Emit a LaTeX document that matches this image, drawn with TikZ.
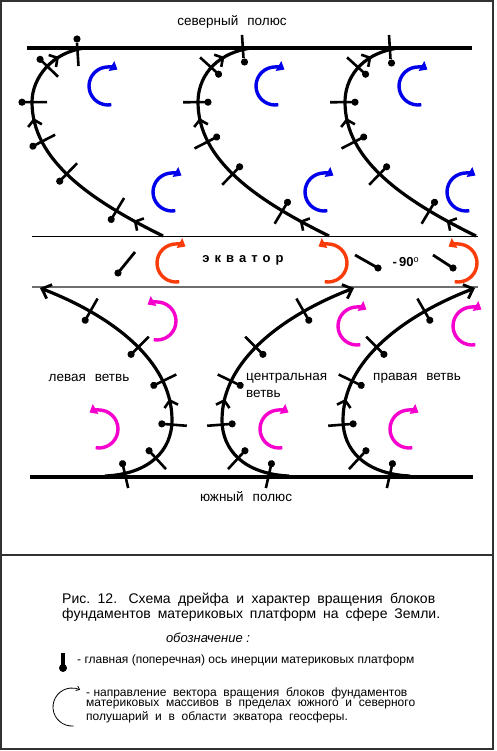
\documentclass[tikz,border=0pt]{standalone}
\usepackage{fontspec}
\setmainfont{Liberation Sans}
\usetikzlibrary{arrows.meta,decorations.markings}
\definecolor{rotblue}{RGB}{0,0,235}
\definecolor{rotred}{RGB}{250,60,10}
\definecolor{rotmag}{RGB}{245,0,205}
\definecolor{framegrey}{RGB}{50,50,50}
\definecolor{eqgrey}{RGB}{110,110,110}
\newcommand{\tkdotL}{\draw[-, line width=2.6pt] (0pt,-15pt) -- (0pt,10pt); \fill (0pt,10pt) circle[radius=3.6pt];}
\newcommand{\tkdotR}{\draw[-, line width=2.6pt] (0pt,15pt) -- (0pt,-10pt); \fill (0pt,-10pt) circle[radius=3.6pt];}
\newcommand{\midarr}{\arrow[line width=2.6pt]{Straight Barb[length=6pt,width=14pt]}}
\newcommand{\rotarc}[5]{\draw[rotarrow,#1] (#2,#3) ++(#4:19) arc[start angle=#4, end angle=#5, radius=19];}
\newcommand{\wgap}{\hspace{9pt}}
\tikzset{
  drift/.style={line width=3.2pt, black},
  poleline/.style={line width=4.5pt, black},
  rotarrow/.style={line width=3.4pt, -{Triangle[length=7pt,width=11pt]}},
  axisbar/.style={line width=2.8pt, black},
  topbar/.style={line width=2.6pt, black},
  lbl/.style={inner sep=0pt, font=\fontsize{13.5}{16}\selectfont},
  capt/.style={inner sep=0pt, font=\fontsize{14}{17}\selectfont, anchor=west},
  legtxt/.style={inner sep=0pt, font=\fontsize{12}{13}\selectfont, anchor=west},
  northL/.style={postaction={decorate}, decoration={markings,
    mark=at position 33pt with {\midarr},
    mark=at position 53pt with {\tkdotL},
    mark=at position 115pt with {\tkdotL},
    mark=at position 156pt with {\tkdotL},
    mark=at position 181pt with {\midarr},
    mark=at position 197pt with {\tkdotL},
    mark=at position 237pt with {\tkdotL},
    mark=at position 252pt with {\midarr}}},
  northR/.style={postaction={decorate}, decoration={markings,
    mark=at position 33pt with {\midarr},
    mark=at position 53pt with {\tkdotR},
    mark=at position 115pt with {\tkdotR},
    mark=at position 156pt with {\tkdotR},
    mark=at position 181pt with {\midarr},
    mark=at position 197pt with {\tkdotR},
    mark=at position 235pt with {\tkdotR},
    mark=at position 252pt with {\midarr}}},
  southL/.style={postaction={decorate}, decoration={markings,
    mark=at position 20pt with {\tkdotL},
    mark=at position 55pt with {\tkdotL},
    mark=at position 93pt with {\tkdotL},
    mark=at position 119pt with {\midarr},
    mark=at position 138pt with {\tkdotL},
    mark=at position 180pt with {\tkdotL},
    mark=at position 240pt with {\tkdotL}}},
  southR/.style={postaction={decorate}, decoration={markings,
    mark=at position 20pt with {\tkdotR},
    mark=at position 55pt with {\tkdotR},
    mark=at position 93pt with {\tkdotR},
    mark=at position 119pt with {\midarr},
    mark=at position 138pt with {\tkdotR},
    mark=at position 180pt with {\tkdotR},
    mark=at position 240pt with {\tkdotR}}},
  endarr/.style={-{Straight Barb[length=8pt,width=15pt,line width=2.8pt]}}
}
\begin{document}
\frenchspacing
\begin{tikzpicture}[x=1pt,y=-1pt]
\useasboundingbox (0,0) rectangle (496,751);
\fill[white] (0,0) rectangle (496,751);
% frame
\draw[framegrey, line width=1.5pt] (1,1) rectangle (493,749);
\draw[framegrey, line width=1.5pt] (1,555) -- (493,555);

% pole and equator lines
\draw[poleline] (27,48) -- (472,48);
\draw[poleline] (30,477) -- (473,477);
\draw[black, line width=1.1pt] (32,236.5) -- (478,236.5);
\draw[eqgrey, line width=1.8pt] (32,287) -- (478,287);

% northern drift paths
\draw[drift, northL] (163,236) .. controls (90,200) and (32,160) .. (32,102) .. controls (32,78) and (52,52) .. (85,48) -- (100,48);
\begin{scope}[shift={(166,0)}]
\draw[drift, northR] (163,236) .. controls (90,200) and (32,160) .. (32,102) .. controls (32,80) and (46,54) .. (85,48) -- (100,48);
\end{scope}
\begin{scope}[shift={(313,0)}]
\draw[drift, northR] (163,236) .. controls (90,200) and (32,160) .. (32,102) .. controls (32,80) and (46,54) .. (85,48) -- (100,48);
\end{scope}
% top axis bars of the northern paths
\draw[topbar] (77,43) -- (78.5,66); \fill (77,39) circle[radius=3.6];
\draw[topbar] (242,35) -- (243.5,58); \fill (244.5,62) circle[radius=3.6];
\draw[topbar] (389,35) -- (390.5,59); \fill (391.5,63) circle[radius=3.6];

% southern drift paths
\draw[drift, southL, endarr] (105,476) .. controls (150,474) and (172,450) .. (172,420) .. controls (172,360) and (110,315) .. (40,288);
\draw[drift, southR, endarr] (289,476) .. controls (244,474) and (222,450) .. (222,420) .. controls (222,360) and (284,315) .. (354,288);
\draw[drift, southR, endarr] (410,476) .. controls (365,474) and (343,450) .. (343,420) .. controls (343,360) and (405,315) .. (475,288);

% rotation arrows north (blue)
\rotarc{rotblue}{108}{86}{80}{300}
\rotarc{rotblue}{172}{192}{80}{300}
\rotarc{rotblue}{275}{86}{80}{300}
\rotarc{rotblue}{324}{192}{80}{300}
\rotarc{rotblue}{418}{86}{80}{300}
\rotarc{rotblue}{466}{192}{80}{300}

% rotation arrows equator (red)
\rotarc{rotred}{176}{263}{80}{300}
\rotarc{rotred}{328}{263}{100}{-120}
\rotarc{rotred}{458}{263}{100}{-120}

% rotation arrows south (magenta)
\rotarc{rotmag}{157}{321}{100}{-120}
\rotarc{rotmag}{99}{429}{100}{-120}
\rotarc{rotmag}{357}{326}{80}{300}
\rotarc{rotmag}{472}{326}{80}{300}
\rotarc{rotmag}{279}{429}{80}{300}
\rotarc{rotmag}{409}{429}{80}{300}

% equator axis bars
\draw[axisbar] (135,252) -- (118,273); \fill (118,273) circle[radius=3.6];
\draw[axisbar] (355,255) -- (378,268); \fill (378,268) circle[radius=3.6];
\draw[axisbar] (433,255) -- (453,268); \fill (453,268) circle[radius=3.6];

% labels
\node[lbl] (north) at (232,22) {северный\wgap полюс};
\node[lbl, font=\fontsize{13}{15}\selectfont\bfseries] (equator) at (243,260) {э\kern5pt к\kern5pt в\kern5pt а\kern5pt т\kern5pt о\kern5pt р};
\node[lbl, font=\fontsize{13}{15}\selectfont\bfseries] (minus90) at (406,262) {-\,90$^{\mathrm{o}}$};
\node[lbl] (leftbr) at (89,378) {левая\wgap ветвь};
\node[lbl, anchor=west] (centbr1) at (246,378) {центральная};
\node[lbl, anchor=west] (centbr2) at (246,394) {ветвь};
\node[lbl] (rightbr) at (417,378) {правая\wgap ветвь};
\node[lbl] (south) at (246,497) {южный\wgap полюс};

% caption
\node[capt] (cap1) at (62,600) {\makebox[373pt][s]{Рис. 12.\hspace{4pt} Схема дрейфа и характер вращения блоков}};
\node[capt] (cap2) at (62,615) {\makebox[378pt][s]{фундаментов материковых платформ на сфере Земли.}};
\node[inner sep=0pt, font=\fontsize{13}{15}\selectfont\itshape] (legtitle) at (208,638) {обозначение :};

% legend
\draw[line width=4pt] (63,653) -- (63,665);
\fill (63,668) circle[radius=4];
\node[legtxt] (leg1) at (77,660) {- главная (поперечная) ось инерции материковых платформ};
\draw[line width=0.8pt, -{Straight Barb[length=3pt,width=5pt]}] (72,707) ++(85:19) arc[start angle=85, end angle=295, radius=19];
\node[legtxt] (leg2a) at (86,693) {- направление\ \ вектора\ \ вращения\ \ блоков\ \ фундаментов};
\node[legtxt] (leg2b) at (86,705) {материковых\ \ массивов\ \ в\ \ пределах\ \ южного\ \ и\ \ северного};
\node[legtxt] (leg2c) at (86,717) {полушарий\ \ и\ \ в\ \ области\ \ экватора\ \ геосферы.};
\end{tikzpicture}
\end{document}
